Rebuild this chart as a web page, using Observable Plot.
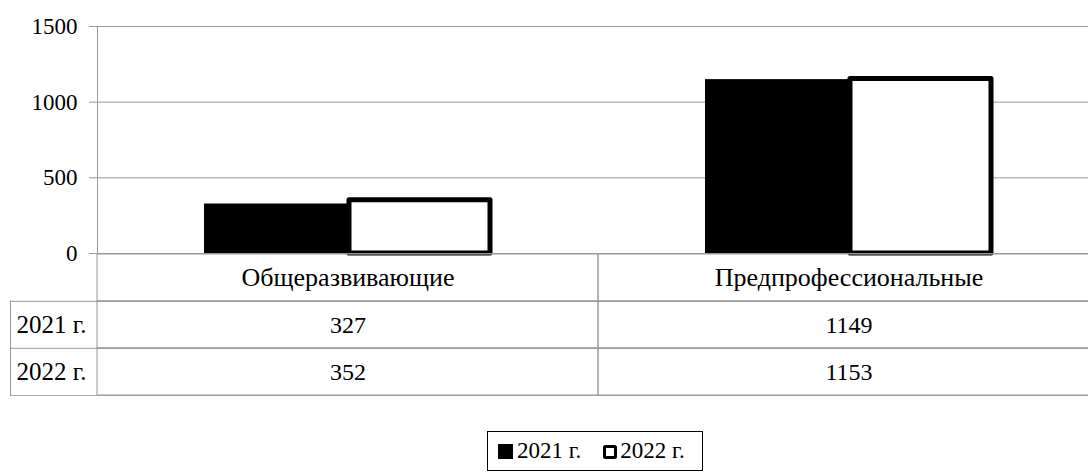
<!DOCTYPE html>
<html>
<head>
<meta charset="utf-8">
<script src="https://cdn.jsdelivr.net/npm/d3@7"></script>
<script src="https://cdn.jsdelivr.net/npm/@observablehq/plot@0.6"></script>
</head>
<body style="margin:0;padding:0;background:white">
<div id="wrap" style="position:relative;width:1088px;height:473px;overflow:hidden;background:white">
  <div id="chart" style="position:absolute;left:0;top:0"></div>
  <div id="table" style="position:absolute;left:0;top:253px"></div>
  <div id="legend" style="position:absolute;left:487px;top:431px;width:216px;height:40px;border:1px solid #000;box-sizing:border-box;font-family:'Liberation Serif';font-size:23px;line-height:38px;white-space:nowrap"></div>
</div>
<script>
const categories = ["Общеразвивающие", "Предпрофессиональные"];
const years = ["2021 г.", "2022 г."];
const values2021 = [327, 1149];
const values2022 = [352, 1153];
const yTicks = [0, 500, 1000, 1500];

const rows2021 = categories.map((c, i) => ({cat: c, v: values2021[i]}));
const rows2022 = categories.map((c, i) => ({cat: c, v: values2022[i]}));
const grid = "#999999";
const FAMILY = "Liberation Serif";

const chart = Plot.plot({
  width: 1088,
  height: 275,
  marginTop: 26,
  marginBottom: 22,
  marginLeft: 97,
  marginRight: 0,
  style: "background: transparent; overflow: visible; color: #000;",
  x: {domain: categories, range: [97, 1099], padding: 0, axis: null},
  y: {domain: [0, 1500], ticks: yTicks, label: null},
  marks: [
    Plot.ruleY(yTicks.slice(1), {stroke: grid, strokeWidth: 1}),
    Plot.axisY(yTicks, {tickSize: 8, tickPadding: 12, stroke: grid, fill: "#000", label: null, fontSize: 23, fontFamily: FAMILY, tickFormat: d => String(d)}),
    Plot.barY(rows2021, {x: "cat", y: "v", fill: "#000", insetLeft: 107, insetRight: 248}),
    Plot.barY(rows2022, {x: "cat", y: "v", fill: "#fff", stroke: "#000", strokeWidth: 5, strokeLinejoin: "round", insetLeft: 252, insetRight: 108}),
    Plot.ruleY([0], {stroke: grid, strokeWidth: 1}),
    Plot.frame({anchor: "left", stroke: grid})
  ]
});
document.getElementById("chart").appendChild(chart);

const rowKeys = ["header", ...years];
const cellsAll = [];
rowKeys.forEach(r => categories.forEach(c => cellsAll.push({cat: c, row: r})));
const valueCells = [];
years.forEach((y, j) => categories.forEach((c, i) => valueCells.push({cat: c, row: y, text: String([values2021, values2022][j][i])})));
const bw = 142 / 3;

const table = Plot.plot({
  width: 1088,
  height: 143,
  marginTop: 0,
  marginBottom: 1,
  marginLeft: 97,
  marginRight: 0,
  style: "background: transparent; color: #000;",
  x: {domain: categories, range: [97, 1099], padding: 0, axis: null},
  y: {domain: rowKeys, range: [0, 142], padding: 0, axis: null},
  marks: [
    Plot.cell(cellsAll, {x: "cat", y: "row", fill: "none", stroke: grid}),
    Plot.ruleY(years, {y: d => d, dy: -bw / 2, insetLeft: -87, stroke: grid}),
    Plot.ruleY(years.slice(-1), {y: d => d, dy: bw / 2, insetLeft: -87, stroke: grid}),
    Plot.frame({anchor: "left", insetLeft: -87, insetTop: bw, stroke: grid}),
    Plot.text(categories, {x: d => d, y: () => "header", text: d => d, fontSize: 26, fontFamily: FAMILY, fill: "#000"}),
    Plot.text(valueCells, {x: "cat", y: "row", text: "text", fontSize: 24, fontFamily: FAMILY, fill: "#000"}),
    Plot.text(years, {y: d => d, frameAnchor: "left", dx: -81, textAnchor: "start", text: d => d, fontSize: 25, fontFamily: FAMILY, fill: "#000"})
  ]
});
document.getElementById("table").appendChild(table);

// legend (HTML)
const legend = document.getElementById("legend");
years.forEach((y, i) => {
  const sw = document.createElement("span");
  sw.style.cssText = i === 0
    ? "display:inline-block;width:15px;height:15px;background:#000;margin-left:10px;margin-right:4px;vertical-align:-1px"
    : "display:inline-block;width:8px;height:8px;background:#fff;border:3.5px solid #000;border-radius:2.5px;margin-left:22px;margin-right:3px;vertical-align:-1px";
  legend.appendChild(sw);
  const t = document.createElement("span");
  t.textContent = y;
  legend.appendChild(t);
});
</script>
</body>
</html>
